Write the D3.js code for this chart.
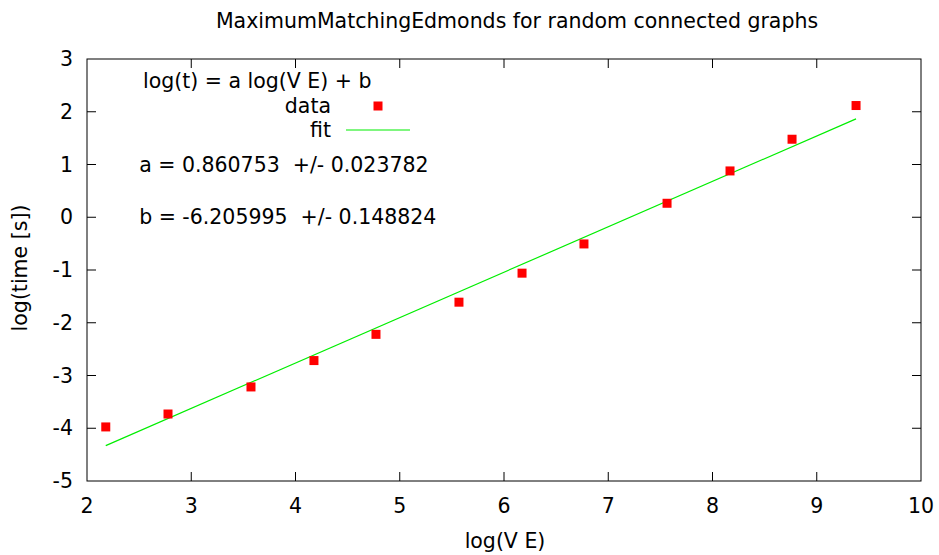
<!DOCTYPE html>
<html><head><meta charset="utf-8">
<script src="https://cdn.jsdelivr.net/npm/d3@7"></script>
<style>body{margin:0;background:#fff}svg{display:block}text{font-family:"DejaVu Sans",sans-serif;fill:#000}</style>
</head><body><svg id="c" width="939" height="555"></svg>
<script>
const xVals = [2.18, 2.777, 3.573, 4.177, 4.772, 5.568, 6.173, 6.767, 7.564, 8.168, 8.763, 9.377];
const yVals = [-3.975, -3.73, -3.217, -2.717, -2.22, -1.61, -1.06, -0.506, 0.265, 0.878, 1.479, 2.118];
const fitA = 0.860753, fitB = -6.205995;
const xTicks = [2,3,4,5,6,7,8,9,10];
const yTicks = [-5,-4,-3,-2,-1,0,1,2,3];
const title = "MaximumMatchingEdmonds for random connected graphs";

const svg = d3.select("#c");
const L=87, R=921, T=59, B=481, tl=9;
const x = d3.scaleLinear().domain([2,10]).range([L,R]);
const y = d3.scaleLinear().domain([-5,3]).range([B,T]);
const fs = 20.5;

svg.append("rect").attr("x",L).attr("y",T).attr("width",R-L).attr("height",B-T)
  .attr("fill","none").attr("stroke","#000").attr("stroke-width",1);

const g = svg.append("g");
xTicks.forEach(t=>{
  const px = x(t);
  if (t!==2 && t!==10){
    g.append("line").attr("x1",px).attr("x2",px).attr("y1",B).attr("y2",B-tl).attr("stroke","#000");
    g.append("line").attr("x1",px).attr("x2",px).attr("y1",T).attr("y2",T+tl).attr("stroke","#000");
  }
  g.append("text").attr("x",px).attr("y",B+32).attr("text-anchor","middle").attr("font-size",fs).text(t);
});
yTicks.forEach(t=>{
  const py = y(t);
  if (t!==-5 && t!==3){
    g.append("line").attr("x1",L).attr("x2",L+tl).attr("y1",py).attr("y2",py).attr("stroke","#000");
    g.append("line").attr("x1",R).attr("x2",R-tl).attr("y1",py).attr("y2",py).attr("stroke","#000");
  }
  g.append("text").attr("x",L-14).attr("y",py).attr("dy","0.35em").attr("text-anchor","end").attr("font-size",fs).text(t);
});

svg.append("text").attr("x",517).attr("y",28).attr("text-anchor","middle").attr("font-size",fs).text(title);
svg.append("text").attr("x",505).attr("y",548).attr("text-anchor","middle").attr("font-size",fs).text("log(V E)");
svg.append("text").attr("transform",`translate(27,268) rotate(-90)`).attr("text-anchor","middle").attr("font-size",fs).text("log(time [s])");

const x0 = d3.min(xVals), x1 = d3.max(xVals);
const line = d3.line().x(d=>x(d)).y(d=>y(fitA*d+fitB));
svg.append("path").datum([x0,x1]).attr("d",line).attr("stroke","#00ee00").attr("stroke-width",1.2).attr("fill","none");

const sq = 9;
svg.selectAll("rect.pt").data(xVals).enter().append("rect").attr("class","pt")
  .attr("x",(d)=>x(d)-sq/2).attr("y",(d,i)=>y(yVals[i])-sq/2).attr("width",sq).attr("height",sq).attr("fill","#ff0000");

svg.append("text").attr("x",143).attr("y",88).attr("font-size",fs).text("log(t) = a log(V E) + b");
svg.append("text").attr("x",331).attr("y",106).attr("dy","0.35em").attr("text-anchor","end").attr("font-size",fs).text("data");
svg.append("rect").attr("x",378-sq/2).attr("y",106-sq/2).attr("width",sq).attr("height",sq).attr("fill","#ff0000");
svg.append("text").attr("x",331).attr("y",130).attr("dy","0.35em").attr("text-anchor","end").attr("font-size",fs).text("fit");
svg.append("line").attr("x1",346).attr("x2",410).attr("y1",130).attr("y2",130).attr("stroke","#00ee00").attr("stroke-width",1.2);

svg.append("text").attr("x",x(2.5)).attr("y",y(1)).attr("dy","0.35em").attr("font-size",fs).attr("xml:space","preserve").style("white-space","pre").text("a = 0.860753  +/- 0.023782");
svg.append("text").attr("x",x(2.5)).attr("y",y(0)).attr("dy","0.35em").attr("font-size",fs).attr("xml:space","preserve").style("white-space","pre").text("b = -6.205995  +/- 0.148824");
</script></body></html>
